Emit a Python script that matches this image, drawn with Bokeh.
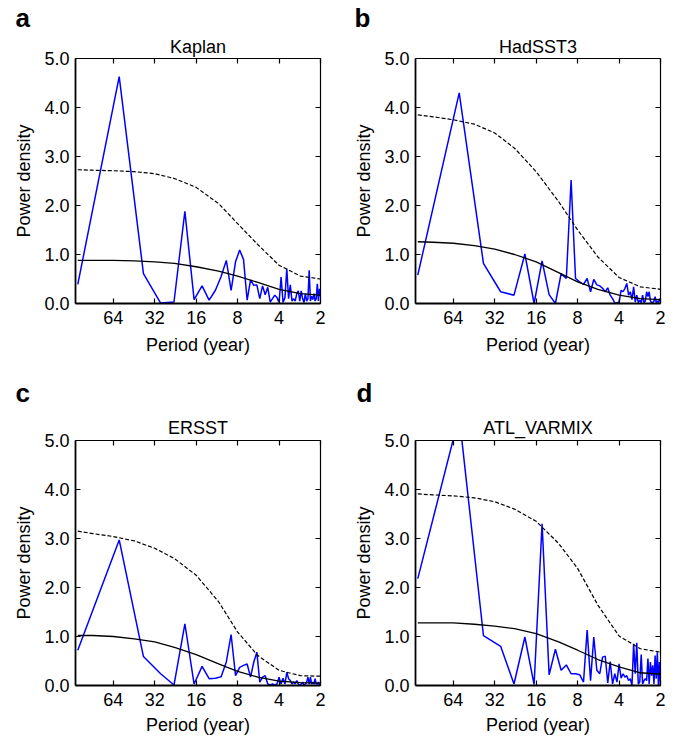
from bokeh.plotting import figure
from bokeh.models import Range1d, FixedTicker, PrintfTickFormatter, LogAxis, LinearAxis, Title
from bokeh.layouts import column, row
from bokeh.embed import file_html
from bokeh.resources import INLINE

# ---------------- data ----------------
N_YEARS = 116                      # record length -> Fourier periods N/k
HARMONICS = list(range(1, 59))     # k = 1 .. 58  (period 116 .. 2 yr)
X_TICKS = [64, 32, 16, 8, 4, 2]
Y_TICKS = [0, 1, 2, 3, 4, 5]

# periods at which the red-noise curves were read
CURVE_PERIODS = [116, 90, 64, 45, 32, 23, 16, 11, 8, 5.7, 4, 2.8, 2]

kaplan_spec = [0.39, 4.63, 0.61, 0.01, 0.03, 1.88, 0.08, 0.36, 0.07, 0.27,
               0.55, 0.88, 0.27, 0.85, 1.09, 0.90, 0.07, 0.48, 0.37, 0.38,
               0.10, 0.36, 0.18, 0.33, 0.03, 0.10, 0.17, 0.12, 0.02, 0.54,
               0.02, 0.12, 0.71, 0.10, 0.38, 0.05, 0.10, 0.05, 0.20, 0.26,
               0.05, 0.26, 0.10, 0.02, 0.20, 0.05, 0.10, 0.68, 0.05, 0.15,
               0.08, 0.20, 0.05, 0.10, 0.40, 0.05, 0.30, 0.15]
kaplan_red = [0.88, 0.88, 0.88, 0.87, 0.85, 0.82, 0.75, 0.66, 0.56, 0.43, 0.29, 0.20, 0.17]
kaplan_conf = [2.73, 2.72, 2.71, 2.69, 2.65, 2.55, 2.37, 2.04, 1.63, 1.20, 0.78, 0.56, 0.50]

hadsst_spec = [0.58, 4.30, 0.82, 0.24, 0.17, 1.01, 0.00, 0.87, 0.18, 0.00,
               0.61, 0.51, 2.52, 0.51, 0.44, 0.39, 0.51, 0.24, 0.49, 0.38,
               0.36, 0.31, 0.24, 0.32, 0.17, 0.10, 0.01, 0.01, 0.03, 0.27,
               0.24, 0.31, 0.41, 0.17, 0.24, 0.08, 0.34, 0.03, 0.17, 0.02,
               0.07, 0.02, 0.17, 0.02, 0.05, 0.24, 0.14, 0.24, 0.05, 0.02,
               0.02, 0.05, 0.14, 0.02, 0.05, 0.02, 0.10, 0.03]
hadsst_red = [1.26, 1.25, 1.23, 1.18, 1.11, 1.00, 0.85, 0.63, 0.44, 0.29, 0.17, 0.10, 0.08]
hadsst_conf = [3.85, 3.81, 3.75, 3.66, 3.48, 3.17, 2.69, 2.08, 1.50, 0.95, 0.53, 0.34, 0.29]

ersst_spec = [0.72, 2.97, 0.59, 0.24, 0.01, 1.26, 0.03, 0.39, 0.14, 0.15,
              0.18, 0.48, 1.04, 0.20, 0.37, 0.41, 0.44, 0.17, 0.48, 0.68,
              0.07, 0.17, 0.20, 0.03, 0.01, 0.03, 0.01, 0.03, 0.17, 0.03,
              0.15, 0.03, 0.27, 0.14, 0.10, 0.03, 0.07, 0.03, 0.10, 0.03,
              0.01, 0.03, 0.07, 0.01, 0.03, 0.07, 0.17, 0.03, 0.17, 0.03,
              0.07, 0.03, 0.14, 0.03, 0.03, 0.07, 0.01, 0.01]
ersst_red = [1.02, 1.02, 1.00, 0.95, 0.89, 0.78, 0.63, 0.44, 0.29, 0.17, 0.09, 0.06, 0.05]
ersst_conf = [3.15, 3.10, 3.04, 2.95, 2.80, 2.59, 2.25, 1.71, 1.09, 0.61, 0.31, 0.20, 0.19]

atl_spec = [2.18, 5.50, 1.02, 0.80, 0.03, 0.99, 0.02, 3.30, 0.22, 0.74,
            0.31, 0.42, 0.24, 0.24, 0.22, 0.07, 1.13, 0.10, 0.99, 0.31,
            0.24, 0.58, 0.60, 0.05, 0.49, 0.03, 0.24, 0.07, 0.44, 0.15,
            0.24, 0.17, 0.20, 0.10, 0.14, 0.00, 0.85, 0.24, 0.87, 0.03,
            0.07, 0.63, 0.03, 0.10, 0.14, 0.10, 0.55, 0.03, 0.48, 0.20,
            0.41, 0.03, 0.61, 0.14, 0.68, 0.00, 0.48, 0.00]
atl_red = [1.28, 1.28, 1.28, 1.25, 1.21, 1.16, 1.06, 0.89, 0.72, 0.53, 0.38, 0.26, 0.23]
atl_conf = [3.91, 3.89, 3.87, 3.83, 3.75, 3.60, 3.35, 2.90, 2.39, 1.64, 1.01, 0.75, 0.68]

PERIODS = [N_YEARS / k for k in HARMONICS]

FONT = "Liberation Sans"
FRAME = 245


def style_axis(ax, line_width, show_labels, label_standoff=6, axis_label_standoff=6):
    ax.axis_line_color = "black"
    ax.axis_line_width = line_width
    ax.major_tick_line_color = "black"
    ax.major_tick_line_width = 1.2
    ax.major_tick_in = 5
    ax.major_tick_out = 0
    ax.minor_tick_line_color = None
    ax.major_label_text_font = FONT
    if show_labels:
        ax.major_label_text_color = "black"
        ax.major_label_text_font_size = "18px"
        ax.major_label_standoff = label_standoff
    else:
        ax.major_label_text_color = None
        ax.major_label_text_font_size = "0px"
        ax.major_label_standoff = 0
    ax.axis_label_text_font = FONT
    ax.axis_label_text_font_size = "18px"
    ax.axis_label_text_font_style = "normal"
    ax.axis_label_text_color = "black"
    ax.axis_label_standoff = axis_label_standoff


def panel(letter, name, spec, red, conf, b_left, b_right, b_top, b_bottom,
          title_standoff, letter_standoff, letter_offset, xlab_standoff):
    p = figure(frame_width=FRAME, frame_height=FRAME, x_axis_type="log",
               x_range=Range1d(120.5, 2), y_range=Range1d(0, 5),
               output_backend="svg", toolbar_location=None,
               min_border_left=b_left, min_border_right=b_right,
               min_border_top=b_top, min_border_bottom=b_bottom,
               outline_line_color=None, background_fill_color="white",
               border_fill_color="white")
    p.xgrid.visible = False
    p.ygrid.visible = False

    xa = p.xaxis[0]
    xa.ticker = FixedTicker(ticks=X_TICKS)
    xa.formatter = PrintfTickFormatter(format="%d")
    xa.axis_label = "Period (year)"
    style_axis(xa, 1.8, True, 7, xlab_standoff)

    ya = p.yaxis[0]
    ya.ticker = FixedTicker(ticks=Y_TICKS)
    ya.formatter = PrintfTickFormatter(format="%.1f")
    ya.axis_label = "Power density"
    style_axis(ya, 1.8, True, 6, 7)

    top = LogAxis(ticker=FixedTicker(ticks=X_TICKS))
    style_axis(top, 1.2, False)
    p.add_layout(top, "above")
    right = LinearAxis(ticker=FixedTicker(ticks=Y_TICKS))
    style_axis(right, 1.2, False)
    p.add_layout(right, "right")

    p.line(PERIODS, spec, line_color="#0000FF", line_width=1.5)
    p.line(CURVE_PERIODS, red, line_color="black", line_width=1.3)
    p.line(CURVE_PERIODS, conf, line_color="black", line_width=1.2, line_dash="4 2")

    p.add_layout(Title(text=name, align="center", text_font=FONT, text_font_size="18px",
                       text_font_style="normal", text_color="black",
                       standoff=title_standoff), "above")
    p.add_layout(Title(text=letter, align="left", offset=letter_offset, text_font=FONT,
                       text_font_size="26px", text_font_style="bold", text_color="black",
                       standoff=letter_standoff), "above")
    return p


pa = panel("a", "Kaplan", kaplan_spec, kaplan_red, kaplan_conf, 75, 25, 57, 64, 4, 0, -60, 8)
pb = panel("b", "HadSST3", hadsst_spec, hadsst_red, hadsst_conf, 70, 8, 57, 64, 4, 0, -61, 8)
pc = panel("c", "ERSST", ersst_spec, ersst_red, ersst_conf, 75, 25, 73, 53, 6, 9, -60, 6)
pd_ = panel("d", "ATL_VARMIX", atl_spec, atl_red, atl_conf, 70, 8, 73, 53, 6, 9, -59, 6)

layout = column(row(pa, pb), row(pc, pd_))

with open("out.html", "w") as f:
    f.write(file_html(layout, INLINE))
